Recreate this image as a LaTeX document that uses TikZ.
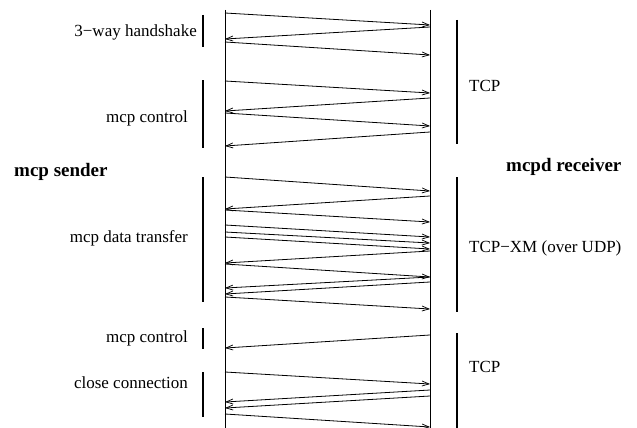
\documentclass[tikz,border=0pt]{standalone}
\usepackage{fontspec}
\setmainfont{Liberation Serif}
\usepackage{tikz}
\usetikzlibrary{arrows.meta}

\begin{document}
\begin{tikzpicture}[x=1pt,y=-1pt,
  msg/.style={line width=0.8pt,-{Straight Barb[length=7pt,width=5pt,line width=0.7pt]}},
  phase/.style={line width=1.7pt},
  lbl/.style={inner sep=0pt,font=\fontsize{17}{20}\selectfont},
  side/.style={inner sep=0pt,font=\fontsize{19}{22}\selectfont\bfseries}]
\useasboundingbox (0,0) rectangle (637,428);

% life lines
\coordinate (Stop) at (225,10);
\coordinate (Sbot) at (225,428);
\coordinate (Rtop) at (430,10);
\coordinate (Rbot) at (430,428);
\draw[line width=0.8pt] (Stop) -- (Sbot);
\draw[line width=0.8pt] (Rtop) -- (Rbot);

\node[side,anchor=west] (sender) at (14,172) {mcp sender};
\node[side,anchor=west] (receiver) at (506,167) {mcpd receiver};

% sender -> receiver
\foreach \ys/\yr [count=\i] in {13/25, 42/55, 81/93, 113/126, 177/191, 210/222,
    225/237, 232/243, 237/249, 264/277, 297/309, 372/384, 414/427} {
  \coordinate (a\i) at (225,\ys);
  \coordinate (b\i) at (430,\yr);
  \draw[msg] (a\i) -- (b\i);
}

% receiver -> sender
\foreach \yr/\ys [count=\i] in {27/39, 98/111, 132/146, 196/209, 251/263,
    277/288, 282/294, 335/348, 390/402, 396/408} {
  \coordinate (c\i) at (430,\yr);
  \coordinate (d\i) at (225,\ys);
  \draw[msg] (c\i) -- (d\i);
}

% phases of the sender
\foreach \ya/\yb in {15/47, 80/148, 177/302, 328/349, 372/417}
  \draw[phase] (203,\ya) -- (203,\yb);
\node[lbl,anchor=east] (hs) at (197,32) {3−way handshake};
\node[lbl,anchor=east] (ctrl1) at (188,118) {mcp control};
\node[lbl,anchor=east] (data) at (188,238) {mcp data transfer};
\node[lbl,anchor=east] (ctrl2) at (188,338) {mcp control};
\node[lbl,anchor=east] (close) at (188,383) {close connection};

% protocols on the receiver side
\foreach \ya/\yb in {20/144, 177/312, 333/428}
  \draw[phase] (457,\ya) -- (457,\yb);
\node[lbl,anchor=west] (tcp1) at (469,86) {TCP};
\node[lbl,anchor=west] (xm) at (469,248) {TCP−XM (over UDP)};
\node[lbl,anchor=west] (tcp2) at (469,367) {TCP};
\end{tikzpicture}
\end{document}
